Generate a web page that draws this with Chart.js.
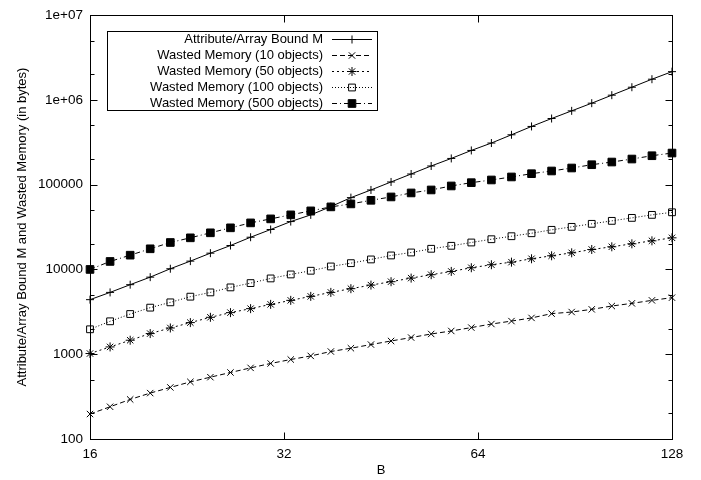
<!DOCTYPE html>
<html><head><meta charset="utf-8">
<script src="https://cdn.jsdelivr.net/npm/chart.js@4"></script>
<style>html,body{margin:0;padding:0;background:#fff}#wrap{width:701px;height:480px}</style>
</head><body><div id="wrap"><canvas id="c" width="701" height="480"></canvas></div>
<script>
// ---- data ----
const B = [16, 17.19, 18.47, 19.84, 21.32, 22.90, 24.60, 26.43, 28.40, 30.51,
           32.78, 35.21, 37.83, 40.64, 43.66, 46.91, 50.40, 54.14, 58.17, 62.49,
           67.14, 72.13, 77.49, 83.25, 89.44, 96.09, 103.23, 110.91, 119.15, 128];
const boundM = [4400, 5360, 6610, 8110, 10190, 12530, 15560, 19150, 23990, 29580,
                36700, 44000, 55100, 70300, 86600, 107600, 133600, 166000, 203800, 253300,
                309700, 387400, 486100, 602600, 742300, 914400, 1136000, 1410000, 1753000, 2153000];
const waste10 = [197, 240, 293, 348, 406, 472, 536, 609, 690, 778,
                 866, 955, 1076, 1177, 1300, 1433, 1572, 1733, 1880, 2061,
                 2270, 2460, 2680, 3010, 3146, 3383, 3702, 3981, 4317, 4645];
const waste50 = [1019, 1219, 1462, 1752, 2040, 2360, 2725, 3094, 3448, 3873,
                 4317, 4812, 5361, 5929, 6535, 7169, 7903, 8665, 9472, 10470,
                 11360, 12190, 13360, 14490, 15710, 17190, 18500, 20060, 21760, 23600];
const waste100 = [1968, 2445, 2979, 3543, 4091, 4773, 5361, 6140, 6902, 7834,
                  8730, 9650, 10840, 11860, 13120, 14620, 15850, 17520, 19000, 20790,
                  22720, 24650, 26730, 29320, 31780, 34510, 37410, 40560, 44030, 47220];
const waste500 = [10000, 12420, 14730, 17520, 20790, 23600, 27040, 30960, 35410, 39480,
                  44040, 49070, 54670, 59290, 65370, 71650, 79870, 86610, 96550, 105600,
                  113600, 123300, 134700, 145000, 157200, 171900, 184900, 200600, 219400, 236000];
const seriesLabels = ['Attribute/Array Bound M', 'Wasted Memory (10 objects)', 'Wasted Memory (50 objects)',
                      'Wasted Memory (100 objects)', 'Wasted Memory (500 objects)'];
const xTickValues = [16, 32, 64, 128];
const xTickLabels = ['16', '32', '64', '128'];
const yMajorTicks = [100, 1000, 10000, 100000, 1000000, 10000000];
const yMajorLabels = ['100', '1000', '10000', '100000', '1e+06', '1e+07'];
const yMinorTicks = [200, 500, 2000, 5000, 20000, 50000, 200000, 500000, 2000000, 5000000];
const xTitle = 'B';
const yTitle = 'Attribute/Array Bound M and Wasted Memory (in bytes)';

// ---- styles ----
const FONT = "'Liberation Sans', Arial, Helvetica, sans-serif";
const styles = [
  {pointStyle: 'cross',    radius: 4,   fill: '#000',   dash: []},
  {pointStyle: 'crossRot', radius: 4.5, fill: '#000',   dash: [5, 3]},
  {pointStyle: 'star',     radius: 4.5, fill: '#000',   dash: [2, 3]},
  {pointStyle: 'rect',     radius: 4.8, fill: 'rgba(0,0,0,0)', dash: [1, 2]},
  {pointStyle: 'rect',     radius: 5.4, fill: '#000',   dash: [5, 3, 1, 3]}
];
const seriesData = [boundM, waste10, waste50, waste100, waste500];

const datasets = seriesData.map((arr, i) => ({
  label: seriesLabels[i],
  data: B.map((b, j) => ({x: b, y: arr[j]})),
  borderColor: '#000',
  borderWidth: 1,
  borderDash: styles[i].dash,
  pointStyle: styles[i].pointStyle,
  pointRadius: styles[i].radius,
  pointBorderWidth: 1,
  pointBorderColor: '#000',
  pointBackgroundColor: styles[i].fill,
  tension: 0,
  fill: false,
  clip: false
}));

const framePlugin = {
  id: 'frame',
  afterDatasetsDraw(chart) {
    const {ctx, chartArea: a, scales: {x, y}} = chart;
    const L = Math.round(a.left) + 0.5, R = Math.round(a.right) + 0.5;
    const T = Math.round(a.top) + 0.5, Bt = Math.round(a.bottom) + 0.5;
    ctx.save();
    ctx.strokeStyle = '#000';
    ctx.lineWidth = 1;
    ctx.setLineDash([]);
    ctx.strokeRect(L, T, R - L, Bt - T);
    ctx.beginPath();
    xTickValues.forEach(v => {
      const px = Math.round(x.getPixelForValue(v)) + 0.5;
      ctx.moveTo(px, Bt); ctx.lineTo(px, Bt - 7);
      ctx.moveTo(px, T); ctx.lineTo(px, T + 7);
    });
    yMajorTicks.forEach(v => {
      const py = Math.round(y.getPixelForValue(v)) + 0.5;
      ctx.moveTo(L, py); ctx.lineTo(L + 7, py);
      ctx.moveTo(R, py); ctx.lineTo(R - 7, py);
    });
    yMinorTicks.forEach(v => {
      const py = Math.round(y.getPixelForValue(v)) + 0.5;
      ctx.moveTo(L, py); ctx.lineTo(L + 4, py);
      ctx.moveTo(R, py); ctx.lineTo(R - 4, py);
    });
    ctx.stroke();

    // legend (gnuplot style)
    const box = {l: 107, t: 31, r: 377, b: 110};
    ctx.strokeRect(box.l + 0.5, box.t + 0.5, box.r - box.l, box.b - box.t);
    ctx.font = '13px ' + FONT;
    ctx.textAlign = 'right';
    ctx.textBaseline = 'middle';
    chart.data.datasets.forEach((ds, i) => {
      const yy = 39 + i * 16;
      ctx.fillStyle = '#000';
      ctx.fillText(ds.label, 323, yy);
      ctx.beginPath();
      ctx.setLineDash(ds.borderDash);
      ctx.moveTo(332, yy + 0.5); ctx.lineTo(372, yy + 0.5);
      ctx.stroke();
      ctx.setLineDash([]);
      ctx.fillStyle = ds.pointBackgroundColor;
      ctx.strokeStyle = '#000';
      Chart.helpers.drawPoint(ctx, {
        pointStyle: ds.pointStyle, radius: ds.pointRadius, rotation: 0, borderWidth: 1
      }, 352, yy + 0.5);
    });
    ctx.restore();
  }
};

new Chart(document.getElementById('c'), {
  type: 'line',
  data: {datasets},
  options: {
    responsive: false,
    animation: false,
    devicePixelRatio: 1,
    events: [],
    layout: {padding: {top: 14, right: 29, bottom: 0, left: 0}},
    plugins: {legend: {display: false}, tooltip: {enabled: false}},
    scales: {
      x: {
        type: 'logarithmic', min: 16, max: 128,
        afterFit: s => { s.height = 41; },
        afterBuildTicks: s => { s.ticks = xTickValues.map(v => ({value: v})); },
        grid: {display: false, drawTicks: false},
        border: {display: false},
        ticks: {
          autoSkip: false, maxRotation: 0, padding: 7, color: '#000',
          font: {family: FONT, size: 13.5},
          callback: v => { const k = xTickValues.indexOf(v); return k >= 0 ? xTickLabels[k] : ''; }
        },
        title: {display: true, text: xTitle, color: '#000', font: {family: FONT, size: 13}, padding: {top: 0, bottom: 2}}
      },
      y: {
        type: 'logarithmic', min: 100, max: 10000000,
        afterFit: s => { s.width = 90; },
        afterBuildTicks: s => {
          s.ticks = yMajorTicks.concat(yMinorTicks).sort((a, b) => a - b).map(v => ({value: v}));
        },
        grid: {display: false, drawTicks: false},
        border: {display: false},
        ticks: {
          autoSkip: false, padding: 7, color: '#000',
          font: {family: FONT, size: 13.5},
          callback: v => { const k = yMajorTicks.indexOf(v); return k >= 0 ? yMajorLabels[k] : ''; }
        },
        title: {display: true, text: yTitle, color: '#000', font: {family: FONT, size: 13}, padding: {top: 15, bottom: 0}}
      }
    }
  },
  plugins: [framePlugin]
});
</script>
</body></html>
